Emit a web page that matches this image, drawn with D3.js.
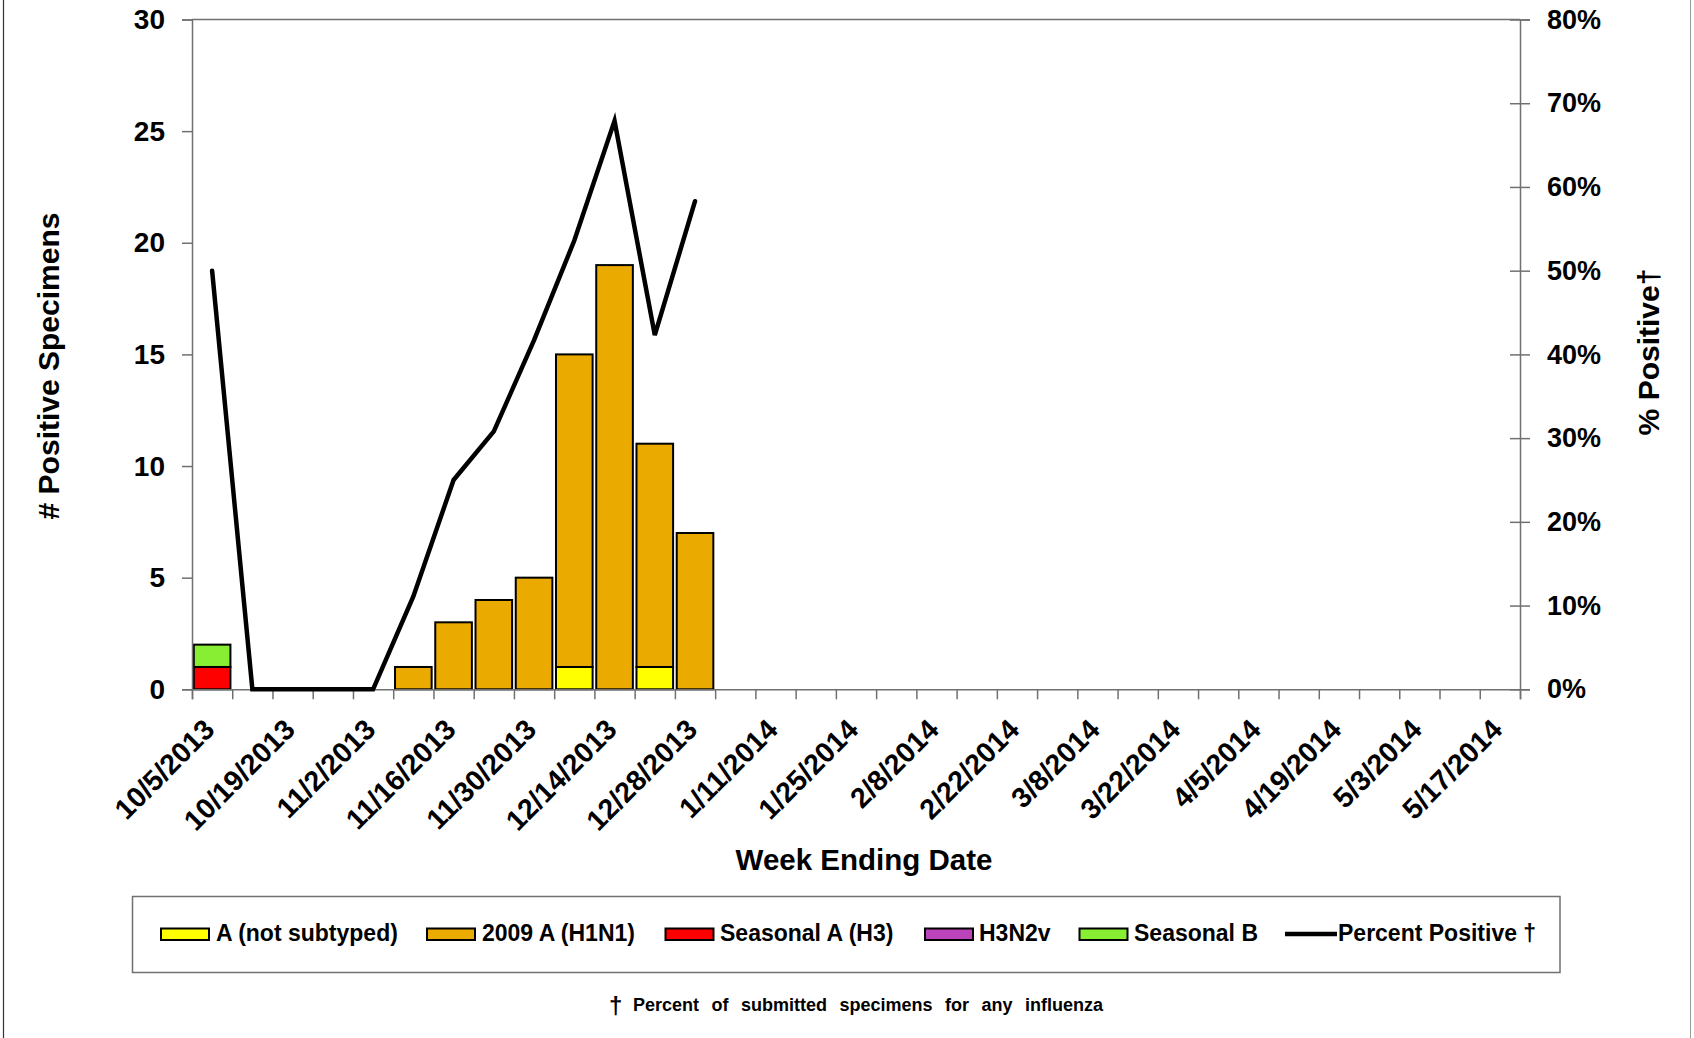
<!DOCTYPE html>
<html>
<head>
<meta charset="utf-8">
<script src="https://cdn.jsdelivr.net/npm/d3@7"></script>
<style>
  html, body { margin: 0; padding: 0; background: #fff; }
  svg { display: block; }
  text { font-family: "Liberation Sans", Arial, sans-serif; fill: #000; }
</style>
</head>
<body>
<svg id="chart" width="1694" height="1038"></svg>
<script>
// ---------------- DATA ----------------
const weeks = [
  "10/5/2013","10/12/2013","10/19/2013","10/26/2013","11/2/2013","11/9/2013","11/16/2013",
  "11/23/2013","11/30/2013","12/7/2013","12/14/2013","12/21/2013","12/28/2013",
  "1/4/2014","1/11/2014","1/18/2014","1/25/2014","2/1/2014","2/8/2014","2/15/2014",
  "2/22/2014","3/1/2014","3/8/2014","3/15/2014","3/22/2014","3/29/2014","4/5/2014",
  "4/12/2014","4/19/2014","4/26/2014","5/3/2014","5/10/2014","5/17/2014"
];
// labels shown every other week
const tickLabels = ["10/5/2013","10/19/2013","11/2/2013","11/16/2013","11/30/2013","12/14/2013",
  "12/28/2013","1/11/2014","1/25/2014","2/8/2014","2/22/2014","3/8/2014","3/22/2014",
  "4/5/2014","4/19/2014","5/3/2014","5/17/2014"];

const aNotSubtyped  = [0,0,0,0,0,0,0,0,0,1,0,1,0];
const h1n1_2009     = [0,0,0,0,0,1,3,4,5,14,19,10,7];
const seasonalA_H3  = [1,0,0,0,0,0,0,0,0,0,0,0,0];
const h3n2v         = [0,0,0,0,0,0,0,0,0,0,0,0,0];
const seasonalB     = [1,0,0,0,0,0,0,0,0,0,0,0,0];
const percentPositive = [50,0,0,0,0,11.1,25,30.8,41.7,53.6,67.9,42.3,58.3];

const leftTicks  = [0,5,10,15,20,25,30];
const rightTicks = [0,10,20,30,40,50,60,70,80];

const seriesNames  = ["A (not subtyped)","2009 A (H1N1)","Seasonal A (H3)","H3N2v","Seasonal B"];
const seriesKeys   = ["a","h1n1","h3","h3n2v","b"];
const seriesColors = ["#FFFF00","#EAAA00","#FF0000","#BB44BB","#88EE33"];

// ---------------- LAYOUT ----------------
const svg = d3.select("#chart");
const L = 192, R = 1520, T = 19.5, B = 689.3;
const FONT_TICK = 27;

// table built from arrays
const table = weeks.map((w, i) => ({
  week: w,
  a: aNotSubtyped[i] || 0,
  h1n1: h1n1_2009[i] || 0,
  h3: seasonalA_H3[i] || 0,
  h3n2v: h3n2v[i] || 0,
  b: seasonalB[i] || 0,
  pct: i < percentPositive.length ? percentPositive[i] : null
}));

const x = d3.scaleBand().domain(weeks).range([L, R]).paddingInner(0.09).paddingOuter(0.045);
const xb = d3.scaleLinear().domain([0, weeks.length]).range([L, R]);
const yL = d3.scaleLinear().domain([0, 30]).range([B, T]);
const yR = d3.scaleLinear().domain([0, 80]).range([B, T]);

// outer chart-area border edges
svg.append("line").attr("x1", 3.5).attr("x2", 3.5).attr("y1", 0).attr("y2", 1038)
  .attr("stroke", "#333").attr("stroke-width", 1.2);
svg.append("line").attr("x1", 1690.5).attr("x2", 1690.5).attr("y1", 0).attr("y2", 1038)
  .attr("stroke", "#999").attr("stroke-width", 1);

// plot frame (top)
svg.append("line").attr("x1", L).attr("x2", R).attr("y1", T).attr("y2", T)
  .attr("stroke", "#707070").attr("stroke-width", 1.5);

// ---------------- BARS ----------------
const stack = d3.stack().keys(seriesKeys);
const stacked = stack(table);
const barG = svg.append("g");
stacked.forEach((layer, li) => {
  barG.selectAll(null)
    .data(layer.filter(d => d[1] - d[0] > 0))
    .join("rect")
    .attr("x", d => x(d.data.week))
    .attr("width", x.bandwidth())
    .attr("y", d => yL(d[1]))
    .attr("height", d => yL(d[0]) - yL(d[1]))
    .attr("fill", seriesColors[li])
    .attr("stroke", "#000")
    .attr("stroke-width", 2);
});

// ---------------- AXES ----------------
const axisLeft = d3.axisLeft(yL).tickValues(leftTicks).tickSize(10).tickPadding(17);
const gL = svg.append("g").attr("transform", `translate(${L},0)`).call(axisLeft);
gL.select(".domain").attr("stroke", "#707070").attr("stroke-width", 1.5);
gL.selectAll(".tick line").attr("stroke", "#707070").attr("stroke-width", 1.5);
gL.selectAll(".tick text").style("font-size", "28px").style("font-weight", "bold")
  .style("font-family", '"Liberation Sans", Arial, sans-serif');

const axisRight = d3.axisRight(yR).tickValues(rightTicks).tickSize(10).tickPadding(17)
  .tickFormat(d => d + "%");
const gR = svg.append("g").attr("transform", `translate(${R},0)`).call(axisRight);
gR.select(".domain").attr("stroke", "#707070").attr("stroke-width", 1.5);
gR.selectAll(".tick line").attr("x1", -10).attr("x2", 10).attr("stroke", "#707070").attr("stroke-width", 1.5);
gR.selectAll(".tick text").style("font-size", FONT_TICK + "px").style("font-weight", "bold")
  .style("font-family", '"Liberation Sans", Arial, sans-serif');

const axisBottom = d3.axisBottom(xb).tickValues(d3.range(weeks.length + 1)).tickSize(10).tickFormat("");
const gB = svg.append("g").attr("transform", `translate(0,${B})`).call(axisBottom);
gB.select(".domain").attr("stroke", "#707070").attr("stroke-width", 1.5);
gB.selectAll(".tick line").attr("stroke", "#707070").attr("stroke-width", 1.5);

// rotated category labels
svg.append("g").selectAll("text")
  .data(tickLabels)
  .join("text")
  .attr("transform", d => `translate(${x(d) + x.bandwidth() / 2 + 4},${B + 42}) rotate(-45)`)
  .attr("text-anchor", "end")
  .style("font-size", "28.5px")
  .style("font-weight", "bold")
  .text(d => d);

// ---------------- LINE ----------------
const line = d3.line()
  .defined(d => d.pct !== null)
  .x(d => x(d.week) + x.bandwidth() / 2)
  .y(d => yR(d.pct));
svg.append("path").datum(table).attr("d", line)
  .attr("fill", "none").attr("stroke", "#000").attr("stroke-width", 4.5)
  .attr("stroke-linejoin", "miter").attr("stroke-linecap", "round");

// ---------------- TITLES ----------------
svg.append("text").attr("transform", "translate(59,366) rotate(-90)")
  .attr("text-anchor", "middle").style("font-size", "30px").style("font-weight", "bold")
  .text("# Positive Specimens");
svg.append("text").attr("transform", "translate(1659,352) rotate(-90)")
  .attr("text-anchor", "middle").style("font-size", "30px").style("font-weight", "bold")
  .text("% Positive†");
svg.append("text").attr("x", 864).attr("y", 870)
  .attr("text-anchor", "middle").style("font-size", "29.5px").style("font-weight", "bold")
  .text("Week Ending Date");

// ---------------- LEGEND ----------------
const lg = svg.append("g");
lg.append("rect").attr("x", 132.5).attr("y", 896.5).attr("width", 1427.5).attr("height", 76)
  .attr("fill", "#fff").attr("stroke", "#707070").attr("stroke-width", 1.5);
const swatchX = [161, 427, 665.5, 925, 1079.5];
const textX   = [216, 482, 720, 979, 1134];
seriesNames.forEach((name, i) => {
  lg.append("rect").attr("x", swatchX[i]).attr("y", 928.5).attr("width", 48).attr("height", 11.5)
    .attr("fill", seriesColors[i]).attr("stroke", "#000").attr("stroke-width", 2);
  lg.append("text").attr("x", textX[i]).attr("y", 941)
    .style("font-size", "23px").style("font-weight", "bold").text(name);
});
lg.append("line").attr("x1", 1285).attr("x2", 1337).attr("y1", 934).attr("y2", 934)
  .attr("stroke", "#000").attr("stroke-width", 4.5);
lg.append("text").attr("x", 1338).attr("y", 941)
  .style("font-size", "23px").style("font-weight", "bold").text("Percent Positive †");

// ---------------- FOOTNOTE ----------------
svg.append("text").attr("x", 609).attr("y", 1014)
  .style("font-size", "24px").style("font-weight", "bold").text("†");
svg.append("text").attr("x", 633).attr("y", 1011)
  .style("font-size", "18px").style("font-weight", "bold").style("word-spacing", "7.5px")
  .text("Percent of submitted specimens for any influenza");
</script>
</body>
</html>
